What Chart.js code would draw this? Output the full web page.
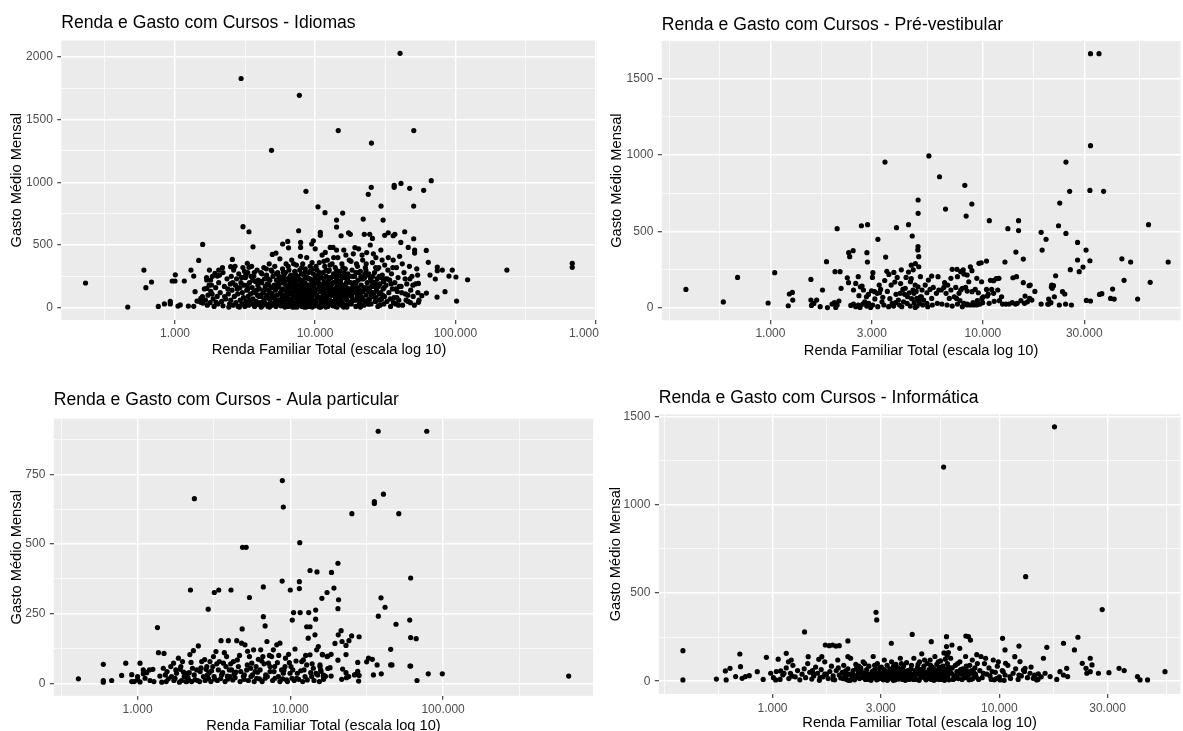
<!DOCTYPE html>
<html>
<head>
<meta charset="utf-8">
<script src="https://cdn.jsdelivr.net/npm/chart.js@4.4.1/dist/chart.umd.min.js"></script>
<style>
  body { margin: 0; background: #fff; width: 1183px; height: 731px; overflow: hidden; position: relative; }
  canvas { position: absolute; }
</style>
</head>
<body>
<canvas id="c1" width="600" height="365" style="left:0;top:0"></canvas>
<canvas id="c2" width="583" height="365" style="left:600px;top:0"></canvas>
<canvas id="c3" width="600" height="360" style="left:0;top:380px"></canvas>
<canvas id="c4" width="583" height="360" style="left:600px;top:380px"></canvas>
<script>
// [renda familiar, gasto medio mensal]
const idiomas = [
  [2960,1828],[7710,1694],[14600,1413],[50500,1413],[25200,1313],[4880,1255],[40300,2029],
  [230,197],[460,5],[600,300],[620,160],[680,205],[760,10],[840,30],[925,30],[925,50],[955,213],[1000,213],[1005,262],
  [1050,13],[1090,22],[1165,213],[1245,13],[1300,300],[1360,252],[1360,11],[1390,128],[1476,377],[1575,505],[1435,53],
  [1480,53],[1530,74],[1570,88],[1530,43],[1580,37],[1683,221],[1690,154],[1795,221],[1820,181],[1840,109],[1928,274],
  [2004,252],[2050,300],[2180,319],[2260,88],[2495,327],[2565,385],[3055,646],[3370,606],[3600,486],[3280,354],[3370,322],
  [3100,242],[3200,260],[4945,425],[5250,436],[5860,508],[6370,529],[6450,478],[7620,614],[7870,521],[7870,481],[8590,928],
  [9440,508],[9700,534],[10000,470],[10470,805],[10880,601],[10880,577],[11750,758],[11800,441],
  [67300,1013],[59400,936],[47200,952],[40900,991],[36600,960],[36600,975],[25100,960],[23900,904],[29500,811],[50400,811],
  [15700,755],[14200,699],[14200,643],[22000,707],[30500,699],[15300,574],[17300,598],[17800,585],[22400,585],[24500,585],
  [25600,553],[31300,577],[33200,598],[36000,574],[37000,585],[43500,606],[40800,521],[50400,550],[46100,481],[51200,460],
  [51200,436],[62000,457],[12800,481],[13400,481],[14200,460],[16000,460],[64100,362],[74300,324],[74300,295],[80700,300],
  [90000,252],[95000,300],[100900,245],[122200,223],[233000,300],[682000,354],[682000,322],[102000,53],[84300,128],[74000,85],
  [62100,117],[57600,96],[54500,43],[54500,194],[71900,229],[65900,260],
  [1620,150],[1650,60],[1700,20],[1720,100],[1750,180],[1780,40],[1800,130],[1850,250],[1870,70],[1900,10],[1950,160],
  [2000,90],[2020,30],[2050,200],[2100,120],[2150,50],[2200,280],[2200,15],[2250,170],[2300,70],[2350,230],[2400,110],
  [2450,30],[2480,190],[1680,240],[1760,300],[2080,260],[2380,150],[2420,5],[1960,45],
  [2500,60],[2520,250],[2550,140],[2600,20],[2620,300],[2650,90],[2700,180],[2720,40],[2750,230],[2800,110],[2820,10],
  [2850,270],[2900,160],[2920,60],[2950,200],[3000,30],[3020,120],[3050,320],[3080,80],[3100,180],[3150,10],[3180,240],
  [3200,50],[3250,140],[3300,280],[3320,90],[3350,20],[3400,200],[3450,110],[3500,40],[3520,330],[3550,160],[3600,70],
  [3650,250],[3700,10],[3720,130],[3750,210],[3800,50],[3850,300],[3880,100],[3900,180],[3950,25],[2580,200],[2680,330],
  [2780,150],[2880,5],[2980,240],[3130,290],[3280,180],[3420,60],[3580,220],[3680,280],[3820,140],[3980,90],
  [4000,150],[4050,40],[4100,280],[4120,90],[4150,200],[4200,15],[4250,120],[4300,320],[4320,60],[4350,230],[4400,170],
  [4450,30],[4500,260],[4520,100],[4550,190],[4600,10],[4650,140],[4700,350],[4720,70],[4750,220],[4800,40],[4850,300],
  [4880,160],[4900,110],[4950,20],[5000,250],[5050,80],[5100,180],[5150,330],[5180,50],[5200,140],[5250,10],[5300,220],
  [5350,100],[5400,280],[5450,30],[5500,170],[5550,60],[5600,390],[5620,240],[5650,120],[5700,15],[5750,200],[5800,80],
  [5850,310],[5900,150],[5950,40],[6000,260],[6050,100],[6100,190],[6150,20],[6200,350],[6250,130],[6300,60],
  [4080,210],[4280,50],[4480,310],[4680,180],[4880,80],[5080,30],[5280,270],[5480,210],[5680,60],[5880,240],[6080,5],[6280,170],
  [6350,230],[6400,10],[6450,150],[6500,300],[6550,70],[6600,190],[6650,30],[6700,260],[6750,110],[6800,380],[6850,50],
  [6900,170],[6950,220],[7000,15],[7100,130],[7150,290],[7200,80],[7250,200],[7300,40],[7350,340],[7400,160],[7450,100],
  [7500,250],[7600,20],[7650,180],[7700,60],[7750,300],[7800,140],[7850,410],[7900,90],[8000,220],[8050,10],[8100,170],
  [8150,350],[8200,50],[8300,260],[8350,120],[8400,30],[8450,200],[8500,310],[8600,80],[8650,150],[8700,400],[8750,40],
  [8800,240],[8900,110],[8950,10],[9000,280],[9050,180],[9100,60],[9200,330],[9250,130],[9300,20],[9400,220],[9450,90],
  [9500,360],[9600,160],[9650,40],[9700,270],[9800,110],[9900,200],[9950,15],
  [6420,330],[6620,250],[6820,120],[7020,350],[7220,270],[7420,5],[7620,230],[7820,90],[8020,320],[8220,130],[8420,280],
  [8620,5],[8820,180],[9020,70],[9220,230],[9420,140],[9620,310],[9820,60],
  [10100,150],[10200,40],[10300,300],[10400,90],[10500,220],[10600,10],[10700,360],[10800,130],[10900,250],[11000,60],
  [11100,180],[11200,420],[11300,20],[11400,280],[11500,110],[11600,200],[11700,330],[11800,50],[11900,160],[12000,250],
  [12100,90],[12200,380],[12300,10],[12400,210],[12500,140],[12600,300],[12700,60],[12800,240],[12900,170],[13000,30],
  [13200,350],[13300,100],[13400,200],[13500,270],[13600,50],[13800,150],[13900,320],[14000,10],[14200,230],[14300,120],
  [14500,400],[14600,70],[14800,190],[15000,290],[15100,30],[15300,140],[15500,350],[15600,90],[15800,240],[16000,180],
  [16200,20],[16400,310],[16500,120],[16700,200],[16900,60],[17100,270],[17300,150],[17500,380],[17700,40],
  [10150,330],[10350,200],[10550,80],[10750,280],[10950,5],[11150,240],[11350,140],[11550,370],[11750,90],[11950,300],
  [12150,30],[12350,160],[12550,230],[12750,340],[12950,100],[13150,190],[13350,15],[13550,400],[13750,250],[13950,80],
  [14150,300],[14350,180],[14550,40],[14750,260],[14950,110],[15150,210],[15350,60],[15550,170],[15750,320],[15950,5],
  [16150,240],[16350,90],[16550,420],[16750,160],[17000,220],[17400,100],
  [17900,200],[18100,30],[18300,300],[18500,120],[18700,430],[18900,60],[19100,250],[19300,160],[19500,10],[19700,350],
  [19900,90],[20200,220],[20400,470],[20600,140],[20800,40],[21000,290],[21300,180],[21500,80],[21800,380],[22000,230],
  [22300,20],[22500,150],[22800,320],[23000,100],[23300,440],[23500,200],[23800,60],[24100,270],[24400,130],[24700,500],
  [25000,30],[25300,210],[25600,360],[25900,90],[26200,170],[26500,280],[26800,50],[27100,400],[27400,140],[27700,230],
  [28000,10],[28400,320],[28700,110],[29000,190],[29400,460],[29700,70],[30100,260],[30500,150],[30900,30],[31300,340],
  [18000,370],[18400,250],[18800,140],[19200,480],[19600,200],[20000,330],[20500,20],[21100,120],[21600,420],[22100,60],
  [22600,270],[23100,350],[23600,140],[24200,30],[24800,230],[25400,120],[26000,430],[26600,200],[27200,80],[27800,310],
  [28600,250],[29300,120],[30000,380],[30700,210],[31200,90],
  [32000,180],[32500,50],[33000,300],[33500,120],[34000,220],[34500,10],[35000,270],[35500,150],[36000,380],[36500,80],
  [37000,200],[37500,30],[38000,320],[38500,130],[39000,240],[39500,60],[40000,410],[41000,170],[42000,20],[43000,280],
  [44000,110],[45000,190],[46000,50],[47000,330],[48000,140],[49000,250],[50000,90],[51000,20],[52000,190],[53000,310],
  [54000,120],[55000,60],[33200,400],[34800,190],[36200,40],[38200,80],[39800,170],[41800,350],[43800,230],[45800,100],
  [47800,40],[49800,180],[53800,260],
  [5120,95],[5330,175],[5580,35],[5770,140],[6020,210],[6180,70],[6480,120],[6720,185],[6880,5],[7080,240],[7280,150],
  [7480,60],[7720,110],[7920,200],[8120,30],[8320,75],[8520,240],[8720,120],[8920,50],[9120,160],[9320,90],[9520,200],
  [9720,20],[9920,130],[10250,100],[10650,170],[11050,30],[11450,230],[11850,120],[12250,60],[12650,180],[13050,240],
  [13450,140],[13850,40],[14250,90],[14650,210],[15050,150],[15450,20],[15850,100],[16250,170],[16650,70],[17050,130],
  [17600,250],[18200,90],[18600,180],[19400,60],[19800,130],[20300,280],[20900,100],[21400,230],[22200,160],[22900,40],
  [23700,260],[24500,70],[25200,170],[26400,120],[27600,190],[28900,60],[30300,100],[31700,230],
  [3300,150],[3480,250],[3620,120],[3780,30],[3920,220],[4040,100],[4170,270],[4330,140],[4470,80],[4620,230],[4780,120],
  [4920,290],[5070,160],[5220,60],[5380,180],[5520,250],[5720,110],[5930,20],[6130,280],[6330,100],[6530,30],[6780,160],
  [6980,90],[7180,190],[7380,220],[7580,130],[7780,40],[7980,270],[8180,100],[8380,190],[8580,140],[8780,70],[8980,230],
  [9180,290],[9380,50],[9580,100],[9780,180],[9980,240],[10420,260],[10820,190],[11220,90],[11620,50],[12020,190],
  [12420,290],[12820,130],[13220,50],[13620,200],[14020,150],[14420,270],[14820,100],[15220,250],[15620,40],[16020,280],
  [16420,140],[16820,250],[17220,30],[17800,110],[18500,60],[19000,200],[19500,280],[20100,160],[20700,70],[21200,250],
  [21900,130],[22500,240],[23200,160],[23900,30],[24600,160],[25800,250],[27000,50],[28200,170],[29500,240],[31000,160],
  [32700,230],[34300,70],[35800,320],[37700,150],[39200,20],[41400,120],[44500,60],[47400,230],[3520,30],[4120,5],
  [4720,5],[5320,160],[5920,280],[6520,220],[7120,5],[7720,150],[8320,5],[8920,140],[9520,5],[10120,60],[10720,5],
  [11320,170],[11920,5],[12520,110],[13120,140],[13720,120],[14320,5],[15520,120],[16820,5],[18000,150],[19500,120],
  [21000,5],[23000,300],[25000,100],[27000,320],[29000,20]
];

const preVestibular = [
  [400,122],[600,40],[700,200],[975,33],[1047,231],[1213,15],[1227,92],[1268,102],[1273,52],[1550,187],[1550,52],[1560,17],
  [1600,30],[1650,52],[1715,9],[1758,118],[1836,303],[1855,3],[1950,26],[2000,35],[2030,4],[2060,20],[2100,46],[2013,238],
  [2127,238],[2060,519],[2150,129],[2300,198],[2330,166],[2335,362],[2360,336],[2450,375],
  [2390,17],[2460,26],[2520,9],[2590,20],[2640,4],[2720,26],[2780,41],[2840,13],[2900,30],[2960,4],[3030,20],
  [2460,118],[2520,161],[2590,205],[2610,81],[2650,139],[2700,144],[2740,118],[2830,74],[2890,89],[2990,113],[3090,107],
  [3180,96],[3260,100],[3300,122],
  [2680,538],[2865,545],[2845,362],[2860,301],[3035,231],[3020,200],[3205,449],[3485,333],[3610,220],[3810,233],[3850,170],
  [3460,954],[3920,525],[4465,545],[4650,471],[4955,619],[4955,706],
  [4465,235],[4600,192],[4800,150],[4950,139],[4690,118],[4420,74],[4230,41],[4050,20],[3740,30],[3600,9],[3420,20],
  [3200,9],[4080,96],[4310,129],[4560,172],[4740,96],[4880,63],[5040,31],[5080,205],[4990,270],[4950,402],[4990,336],
  [4940,380],[4810,290],
  [3100,60],[3250,150],[3350,41],[3450,180],[3550,109],[3650,61],[3700,150],[3800,13],[3900,90],[3950,200],[4000,52],
  [4100,160],[4150,9],[4200,122],[4350,200],[4400,30],[4500,100],[4550,13],[4620,61],[4700,250],[4750,35],[4850,109],
  [4900,13],[3380,70],[3530,240],[3880,35],[4130,250],[4280,90],[4600,280],[4800,4],
  [5570,994],[6250,858],[6670,647],[8220,802],[8340,601],[8870,680],[10720,571],[13110,519],[14720,571],[14720,506],
  [18800,495],[19830,449],[19000,379],[14300,366],[15500,320],[12700,301],[24600,954],[23000,686],[25600,763],[31900,769],
  [37000,763],[22700,538],[24600,488],[27900,429],[30600,379],[31900,309],[27900,314],[25800,251],[28400,238],[29600,268],
  [22000,211],[21000,139],[21200,129],[21100,150],[21500,146],[23700,107],[24300,92],[26100,20],[30700,50],[32100,46],
  [35400,89],[36300,94],[40800,124],[39900,63],[41500,59],[46200,181],[45100,322],[49600,301],[53500,59],[60200,545],
  [61300,168],[74500,301],[20400,59],[20400,26],[18800,26],[32100,1662],[35200,1662],[32100,1061],
  [17000,52],[16600,63],[16200,41],[15700,31],[15100,48],[14500,31],[14240,26],[13750,35],[13280,26],[12830,26],[12380,26],
  [16700,150],[17570,109],[15800,78],[15500,166],[16500,146],[13850,198],[14400,205],[11900,194],[11550,192],[11230,179],
  [10850,181],[11000,122],[10600,92],[10500,78],[9900,63],[9690,26],[9360,20],[9040,20],[8730,20],[8430,26],[8140,31],
  [7800,48],[7520,63],[10400,307],[9820,296],[9580,292],[8730,270],[8430,216],[8080,249],[7860,238],[7550,253],[7170,253],
  [8140,222],[7590,205],[7070,194],[6600,166],[6150,205],[5740,209],[5540,183],[5350,150],[5170,118],[5080,74],[5260,52],
  [5450,31],[5740,63],[6040,96],[6370,118],[6710,96],[6950,63],[7330,74],[7720,96],[8000,129],[8430,111],[8880,107],
  [9200,122],[9520,100],[10040,74],[10400,122],[9860,172],[9360,194],[8880,244],[8580,172],[8290,135],[7860,118],[7450,135],
  [7070,118],[6830,150],[6550,135],[6200,118],[5840,135],[5640,122],[5450,100],[5130,74],[4990,48],[5210,20],[5500,9],
  [5780,20],[6100,31],[6410,26],[6780,20],[7170,13],[7590,26],[8000,9],[8430,20],[8990,35],[9420,48],[9970,35],[10700,31],
  [11300,44],[11960,48],[12240,74],[11750,118],[11230,96],[20200,26],[20900,35],[21700,74],[22900,20],[24500,26]
];

const aulaParticular = [
  [37600,905],[78200,905],[8870,728],[2355,663],[9000,633],[35500,652],[35500,646],[40700,679],[25300,609],[51300,609],
  [4870,488],[5140,488],[11530,505],
  [410,16],[597,68],[597,10],[597,4],[677,10],[787,28],[837,72],[916,31],[916,6],[1000,12],[1000,24],[1038,72],[1038,5],
  [1090,34],[1120,18],[1148,38],[1195,48],[1350,200],[1370,110],[1490,107],[2220,335],[2900,266],[3180,326],[3400,335],
  [4090,335],[5400,308],[6660,346],[8840,367],[10000,335],[11460,365],[11460,340],[13460,405],[14950,400],[16100,305],
  [4840,195],[6660,239],[6840,206],[10300,227],[10500,254],[11600,254],[13200,254],[12800,203],[13460,203],[14650,230],
  [14650,263],[13100,162],[14500,174],
  [1400,26],[1475,54],[1590,16],[1670,24],[1720,72],[1800,36],[1900,50],[1970,78],[2020,24],[2100,6],[2180,38],[2200,103],
  [2320,117],[2440,48],[2500,134],[2630,78],[2700,24],[2840,60],[2980,78],[3140,96],[3260,114],[3430,78],[3520,153],
  [3650,72],[3830,96],[3930,153],[4030,24],[4130,48],[4240,78],[4460,153],[4570,60],[4800,144],[4930,24],[5050,138],
  [5180,48],[5400,96],[5590,72],[5750,120],[5880,42],[6030,18],[6180,86],[6400,120],[6610,96],[7030,150],[7190,72],
  [7370,42],[7550,96],[7740,120],[8150,138],[8350,24],[8550,144],[8770,48],[9000,36],[9230,60],[9460,12],[9750,104],
  [9960,36],[10730,123],[11010,18],[11880,78],[12170,84],[12480,24],[13460,102],[13800,24],[14150,54],[14880,120],
  [15250,132],[15640,66],[16250,102],[16450,24],
  [950,6],[1207,10],[1280,6],[1440,4],[1540,6],[1730,10],[1880,4],[1940,10],[2070,6],[2150,12],[2260,6],[2380,13],[2550,6],
  [2770,10],[2910,17],[3020,6],[3170,24],[3330,10],[3500,17],[3740,6],[3870,26],[4200,12],[4350,20],[4690,6],[4980,14],
  [5310,10],[5530,24],[5800,6],[6270,16],[6540,6],[6840,18],[7070,24],[7660,10],[7940,18],[8550,6],[8910,16],[9570,6],
  [10250,18],[10600,10],[11340,14],[12050,6],[12910,12],[14300,10],[15500,6],
  [1090,48],[1260,50],[1560,42],[1780,48],[1920,60],[2120,36],[2290,54],[2570,42],[2810,50],[2950,38],[3110,60],[3380,48],
  [3610,38],[3790,60],[3990,48],[4290,34],[4500,84],[4740,42],[5230,66],[5500,54],[5970,60],[6340,48],[6730,70],[7370,60],
  [7820,42],[8230,74],[9090,48],[9860,74],[10380,48],[11120,36],[12290,48],[12800,66],[13600,38],[14730,36],[15800,48],
  [1520,30],[1650,60],[1760,18],[1850,90],[2000,40],[2140,20],[2240,75],[2350,30],[2480,10],[2600,55],[2750,85],[2870,30],
  [3050,45],[3200,15],[3300,70],[3550,30],[3700,110],[3900,15],[4070,70],[4400,40],[4650,100],[5000,30],[5250,115],
  [5650,30],[6100,40],[6500,80],[6900,30],[7300,100],[7900,60],[8400,100],[9300,90],[10100,60],[10900,80],[11700,45],
  [12600,100],[13900,70],[15100,30],
  [20500,431],[18600,398],[19300,342],[17400,326],[20700,300],[20500,268],[61340,378],[39240,307],[41700,273],[37700,241],
  [49180,212],[60500,227],[61340,164],[66700,160],[45390,122],[45400,66],[46300,66],[61340,62],[80000,34],[98850,34],
  [67500,10],[664000,26],[21500,189],[20600,174],[21800,150],[19600,143],[24200,153],[25200,170],[28200,167],[23150,136],
  [16200,104],[17600,98],[18500,104],[17400,96],[23150,103],[20500,83],[15640,60],[17600,53],[18200,56],[22000,51],
  [23150,38],[27630,75],[31600,77],[34440,86],[37000,66],[39400,34],[60700,62],[27600,43],[28200,28],[26900,32],[28000,8],
  [16500,29],[17000,25],[18500,26],[16500,14],[21700,14],[23300,20],[24100,24],[26300,30],[15900,43],[32500,90],[35000,30]
];

const informatica = [
  [17500,1441],[5680,1213],[13060,592],[28400,406],[2860,390],[2880,347],[1385,279],
  [403,173],[403,7],[566,12],[625,7],[620,58],[650,73],[688,26],[723,82],[718,154],[735,16],[760,26],[790,31],[857,54],
  [910,10],[940,135],[982,45],[1033,7],[1060,125],[1087,58],[1124,45],[1150,158],[1176,110],[1210,120],[1220,29],
  [1437,139],[1510,45],[1600,124],[1650,139],[1710,205],[1780,201],[1840,205],[1904,199],[1970,201],[2150,228],[2150,139],
  [3340,215],[4130,265],[5010,224],[5850,252],[7120,256],[7460,233],[10330,243],[12200,199],[16190,192],[19170,215],
  [21420,177],[22200,249],[25150,130],[10590,177],[5850,196],[6180,205],[6690,186],[7310,252],[5890,147],[5960,162],
  [30400,48],[33700,73],[35500,60],[40600,26],[41700,7],[45000,7],[53700,54],[27330,45],[24300,45],[25150,54],[25600,92],
  [23200,101],[24100,73],[19800,73],[20000,26],[18500,54],[19170,35],[17910,10],[16740,26],[15900,45],[15640,130],
  [14610,7],[14100,16],[14850,41],[13650,45],[12980,73],[12330,111],[11690,139],[12760,63],[12200,35],[11130,26],
  [10400,54],[10650,101],[10080,7],
  [1010,20],[1040,55],[1080,10],[1110,35],[1150,75],[1180,15],[1200,45],[1230,90],[1260,25],[1290,60],[1320,8],[1350,40],
  [1380,70],[1400,20],[1430,100],[1460,50],[1490,12],[1520,30],[1550,80],[1580,45],[1610,5],[1640,65],[1670,25],[1700,110],
  [1730,40],[1760,15],[1790,55],[1820,85],[1850,30],[1880,8],[1910,60],[1940,120],[1970,35],[2000,18],
  [2030,50],[2060,90],[2090,25],[2120,10],[2150,70],[2180,40],[2210,130],[2240,20],[2270,60],[2300,8],[2330,95],[2360,35],
  [2390,55],[2420,15],[2450,75],[2480,30],[2510,110],[2540,45],[2570,10],[2600,65],[2630,25],[2660,85],[2690,40],[2720,5],
  [2750,55],[2780,140],[2810,20],[2840,70],[2870,35],[2900,100],[2930,12],[2960,50],[2990,28],[3020,80],[3050,45],[3080,8],
  [3110,120],[3140,60],[3170,22],[3200,90],[3230,35],[3260,15],[3290,70],[3320,50],[3350,110],[3380,25],[3410,5],[3440,65],
  [3470,40],[3500,95],[3540,18],[3580,75],[3620,30],[3660,130],[3700,55],[3740,10],[3780,85],[3820,40],[3860,20],[3900,105],
  [3940,60],[3980,30],
  [2050,15],[2130,35],[2200,5],[2280,28],[2350,75],[2440,48],[2520,20],[2610,40],[2700,18],[2790,60],[2880,8],[2970,75],
  [3060,30],[3150,10],[3240,50],[3330,30],[3420,85],[3520,40],[3600,12],[3690,28],[3760,60],[3850,5],[3960,45],[2100,58],
  [2400,85],[2550,100],[2850,50],[3100,65],[3450,20],[3700,100],
  [4020,50],[4060,15],[4100,90],[4150,30],[4200,130],[4250,60],[4300,10],[4350,75],[4400,40],[4450,110],[4500,20],[4550,155],
  [4600,55],[4650,85],[4700,30],[4750,8],[4800,100],[4850,45],[4900,65],[4950,120],[5000,25],[5050,80],[5100,40],[5150,5],
  [5200,140],[5250,60],[5300,95],[5350,20],[5400,70],[5450,35],[5500,115],[5550,50],[5600,10],[5650,85],[5700,160],
  [5750,40],[5800,65],[5850,20],[5900,100],[5950,50],[6000,8],[6100,130],[6200,75],[6300,30],[6400,90],[6500,55],[6600,15],
  [6700,110],[6800,40],[6900,70],[7000,20],[7100,140],[7200,60],[7300,35],[7400,90],[7500,10],[7600,120],[7700,50],
  [7800,75],[7900,25],[8000,100],
  [4080,70],[4180,10],[4280,45],[4380,95],[4480,65],[4580,28],[4680,120],[4780,50],[4880,15],[4980,90],[5080,60],[5180,30],
  [5280,12],[5380,110],[5480,75],[5580,28],[5680,55],[5780,125],[5880,35],[5980,80],[6150,45],[6350,15],[6550,100],
  [6750,65],[6950,40],[7150,85],[7350,8],[7550,60],[7750,30],[7950,150],
  [8200,60],[8400,20],[8600,100],[8800,40],[9000,75],[9200,10],[9400,120],[9600,50],[9800,85],[10000,25],[10300,60],
  [10600,35],[10900,90],[11200,15],[11500,45],[11800,70],[12100,10],[12500,30],[12900,55],[13300,20],[13800,80],[14300,35],
  [14800,10],[15300,25],[8300,140],[8700,130],[9100,30],[9500,8],[9900,110],[10500,5],
  [1500,60],[1620,20],[1700,40],[1850,10],[1950,75],[2080,40],[2160,5],[2250,45],[2320,25],[2460,60],[2580,35],[2650,10],
  [2760,30],[2820,90],[2950,40],[3030,15],[3130,35],[3210,5],[3300,40],[3400,60],[3480,8],[3560,50],[3640,25],[3720,70],
  [3800,15],[3880,50],[4000,10],[4110,40],[4230,25],[4330,55],[4430,5],[4530,45],[4620,70],[4720,15],[4820,35],[4930,50],
  [5020,10],[5130,70],[5230,30],[5330,45],[5430,10],[5530,80],[5630,25],[5730,5],[5830,55],[5930,30],[6050,60],[6250,10],
  [6450,35],[6650,45],[6850,10],[7050,55],[7250,20],[7450,45],[7650,15],[7850,40],[8100,10],[8500,45],[9300,55],[9700,15]
];

// eixos: marcas principais, rotulos e linhas secundarias
const xTicksDecadas = [1000, 10000, 100000, 1000000];
const xLabelsDecadas = ['1.000', '10.000', '100.000', '1.000.000'];
const xMinorDecadas = [316.2, 3162, 31623, 316228];
const xTicks13 = [1000, 3000, 10000, 30000];
const xLabels13 = ['1.000', '3.000', '10.000', '30.000'];
const xMinor13 = [333.3, 577.4, 1732, 5477, 17321, 54772];
const yTicks500 = [0, 500, 1000, 1500, 2000];
const yMinor500 = [250, 750, 1250, 1750];
const yTicks250 = [0, 250, 500, 750];
const yMinor250 = [125, 375, 625, 875];

const FONT = "'Liberation Sans', Arial, sans-serif";

const panelBg = {
  id: 'panelBg',
  beforeDraw(chart) {
    const a = chart.chartArea, c = chart.ctx;
    c.save();
    c.fillStyle = '#EBEBEB';
    c.fillRect(a.left, a.top, a.right - a.left, a.bottom - a.top);
    c.restore();
  }
};

function isMajor(ctx, list) {
  return !!(ctx.tick && list.indexOf(ctx.tick.value) >= 0);
}

function panel(p) {
  const allX = p.xTicks.concat(p.xMinor).filter(v => v >= p.xMin && v <= p.xMax).sort((a, b) => a - b);
  const allY = p.yTicks.concat(p.yMinor).filter(v => v >= p.yMin && v <= p.yMax).sort((a, b) => a - b);
  new Chart(document.getElementById(p.canvas), {
    type: 'scatter',
    data: {
      datasets: [{
        data: p.points.map(d => ({x: d[0], y: d[1]})),
        pointRadius: 2.6,
        pointHoverRadius: 2.6,
        pointBackgroundColor: '#000000',
        pointBorderWidth: 0
      }]
    },
    options: {
      responsive: false,
      animation: false,
      devicePixelRatio: 1,
      layout: {padding: {left: 0, right: p.padRight, top: 0, bottom: 0}},
      plugins: {
        legend: {display: false},
        tooltip: {enabled: false},
        title: {
          display: true, text: p.title, align: 'start', fullSize: false, color: '#000000',
          font: {family: FONT, size: 17.6, weight: 'normal'},
          padding: {top: p.titleTop, bottom: p.titleBottom}
        }
      },
      scales: {
        x: {
          type: 'logarithmic', min: p.xMin, max: p.xMax, bounds: 'data',
          afterBuildTicks: ax => { ax.ticks = allX.map(v => ({value: v})); },
          afterFit: ax => { ax.height = p.xHeight; ax.paddingLeft = 0; ax.paddingRight = 0; },
          ticks: {
            autoSkip: false, maxRotation: 0, minRotation: 0, padding: p.xTickPad, color: '#4D4D4D',
            font: {family: FONT, size: 12},
            callback: v => { const i = p.xTicks.indexOf(v); return i < 0 ? '' : p.xLabels[i]; }
          },
          grid: {
            color: '#FFFFFF',
            lineWidth: c => isMajor(c, p.xTicks) ? 1.4 : 0.7,
            tickColor: c => isMajor(c, p.xTicks) ? '#333333' : 'rgba(0,0,0,0)',
            tickLength: 4, tickWidth: 1.1
          },
          border: {display: false},
          title: {
            display: true, text: 'Renda Familiar Total (escala log 10)', color: '#000000',
            font: {family: FONT, size: 14.67}, padding: {top: 0, bottom: p.xTitlePad}
          }
        },
        y: {
          type: 'linear', min: p.yMin, max: p.yMax, bounds: 'data',
          afterBuildTicks: ax => { ax.ticks = allY.map(v => ({value: v})); },
          afterFit: ax => { ax.width = p.yWidth; ax.paddingTop = 0; ax.paddingBottom = 0; },
          ticks: {
            autoSkip: false, padding: 4.5, color: '#4D4D4D',
            font: {family: FONT, size: 12},
            callback: v => p.yTicks.indexOf(v) < 0 ? '' : String(v)
          },
          grid: {
            color: '#FFFFFF',
            lineWidth: c => isMajor(c, p.yTicks) ? 1.4 : 0.7,
            tickColor: c => isMajor(c, p.yTicks) ? '#333333' : 'rgba(0,0,0,0)',
            tickLength: 4, tickWidth: 1.1
          },
          border: {display: false},
          title: {
            display: true, text: 'Gasto Médio Mensal', color: '#000000',
            font: {family: FONT, size: 14.67}, padding: {top: p.yTitlePad, bottom: 0}
          }
        }
      }
    },
    plugins: [panelBg]
  });
}

panel({
  canvas: 'c1', title: 'Renda e Gasto com Cursos - Idiomas', points: idiomas,
  xMin: 154.5, xMax: 1018600, xTicks: xTicksDecadas, xLabels: xLabelsDecadas, xMinor: xMinorDecadas,
  yMin: -98, yMax: 2131, yTicks: yTicks500, yMinor: yMinor500,
  padRight: 3.3, yWidth: 61.3, xHeight: 45, titleTop: 13, titleBottom: 6.4, xTickPad: 2.3, xTitlePad: 5.9, yTitlePad: 7.7
});
panel({
  canvas: 'c2', title: 'Renda e Gasto com Cursos - Pré-vestibular', points: preVestibular,
  xMin: 308, xMax: 85060, xTicks: xTicks13, xLabels: xLabels13, xMinor: xMinor13,
  yMin: -80, yMax: 1745, yTicks: yTicks500, yMinor: yMinor500,
  padRight: 0, yWidth: 61.8, xHeight: 44.7, titleTop: 14.3, titleBottom: 5.6, xTickPad: 2.5, xTitlePad: 5.4, yTitlePad: 7.7
});
panel({
  canvas: 'c3', title: 'Renda e Gasto com Cursos - Aula particular', points: aulaParticular,
  xMin: 283, xMax: 959500, xTicks: xTicksDecadas, xLabels: xLabelsDecadas, xMinor: xMinorDecadas,
  yMin: -45, yMax: 950, yTicks: yTicks250, yMinor: yMinor250,
  padRight: 6.9, yWidth: 53.8, xHeight: 44.2, titleTop: 9.9, titleBottom: 7.7, xTickPad: 2.2, xTitlePad: 5.7, yTitlePad: 8.2
});
panel({
  canvas: 'c4', title: 'Renda e Gasto com Cursos - Informática', points: informatica,
  xMin: 315.5, xMax: 62800, xTicks: xTicks13, xLabels: xLabels13, xMinor: xMinor13,
  yMin: -72, yMax: 1512, yTicks: yTicks500, yMinor: yMinor500,
  padRight: 0, yWidth: 58.8, xHeight: 46.1, titleTop: 7.9, titleBottom: 5.3, xTickPad: 3.4, xTitlePad: 8.7, yTitlePad: 6.7
});
</script>
</body>
</html>
